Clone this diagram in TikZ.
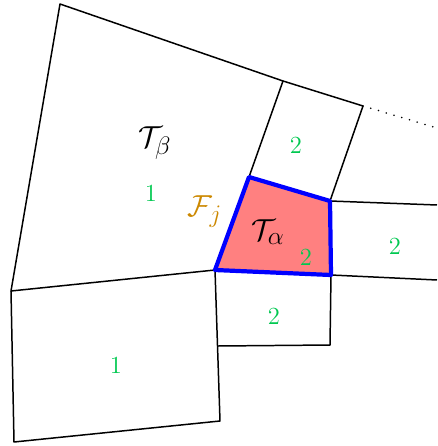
\documentclass[tikz,border=0pt]{standalone}
\usepackage{amsmath}
\usetikzlibrary{positioning}
\definecolor{zahl}{RGB}{0,200,80}
\definecolor{rand}{RGB}{204,136,0}
\tikzset{
  zelle/.style={draw=black, line width=0.85pt, line join=round},
  aktiv/.style={draw=blue, line width=2.4pt, fill=red!50, line join=round},
  nummer/.style={text=zahl, font=\fontsize{14}{16}\selectfont},
  zname/.style={font=\fontsize{19}{22}\selectfont}
}

\begin{document}
\begin{tikzpicture}[x=0.02cm, y=-0.02cm]
  \useasboundingbox (0,0) rectangle (437,446);
  % vertices of the mesh
  \coordinate (t1) at (60,4);
  \coordinate (t2) at (283,81);
  \coordinate (t3) at (363,106);
  \coordinate (t4) at (437,128);
  \coordinate (a1) at (249,177);
  \coordinate (a2) at (330,201);
  \coordinate (a3) at (331,275);
  \coordinate (a4) at (215,270);
  \coordinate (l1) at (11,291);
  \coordinate (r1) at (437,205);
  \coordinate (r2) at (437,280);
  \coordinate (b1) at (218,346);
  \coordinate (b2) at (330,345);
  \coordinate (c1) at (220,421);
  \coordinate (c2) at (14,442);

  % cells
  \draw[zelle] (t1) -- (t2) -- (a1) -- (a4) -- (l1) -- cycle;
  \draw[zelle] (t2) -- (t3) -- (a2) -- (a1);
  \draw[line width=1pt, line cap=round, dash pattern={on 0pt off 4.6pt}] (t3) -- (t4);
  \draw[zelle] (a2) -- (r1);
  \draw[zelle] (a3) -- (r2);
  \draw[zelle] (a4) -- (c1) -- (c2) -- (l1);
  \draw[zelle] (b1) -- (b2) -- (a3);
  \draw[aktiv] (a1) -- (a2) -- (a3) -- (a4) -- cycle;

  % labels
  \node[zname] (tb) at (155,143) {$\mathcal{T}_\beta$};
  \node[zname] (ta) at (268,232) {$\mathcal{T}_\alpha$};
  \node[zname, text=rand] (fj) at (205,212) {$\mathcal{F}_j$};
  \node[nummer] (n1) at (151,193) {1};
  \node[nummer] (n2) at (306,257) {2};
  \node[nummer] (n3) at (296,145) {2};
  \node[nummer] (n4) at (395,246) {2};
  \node[nummer] (n5) at (274,316) {2};
  \node[nummer] (n6) at (116,365) {1};
\end{tikzpicture}
\end{document}
